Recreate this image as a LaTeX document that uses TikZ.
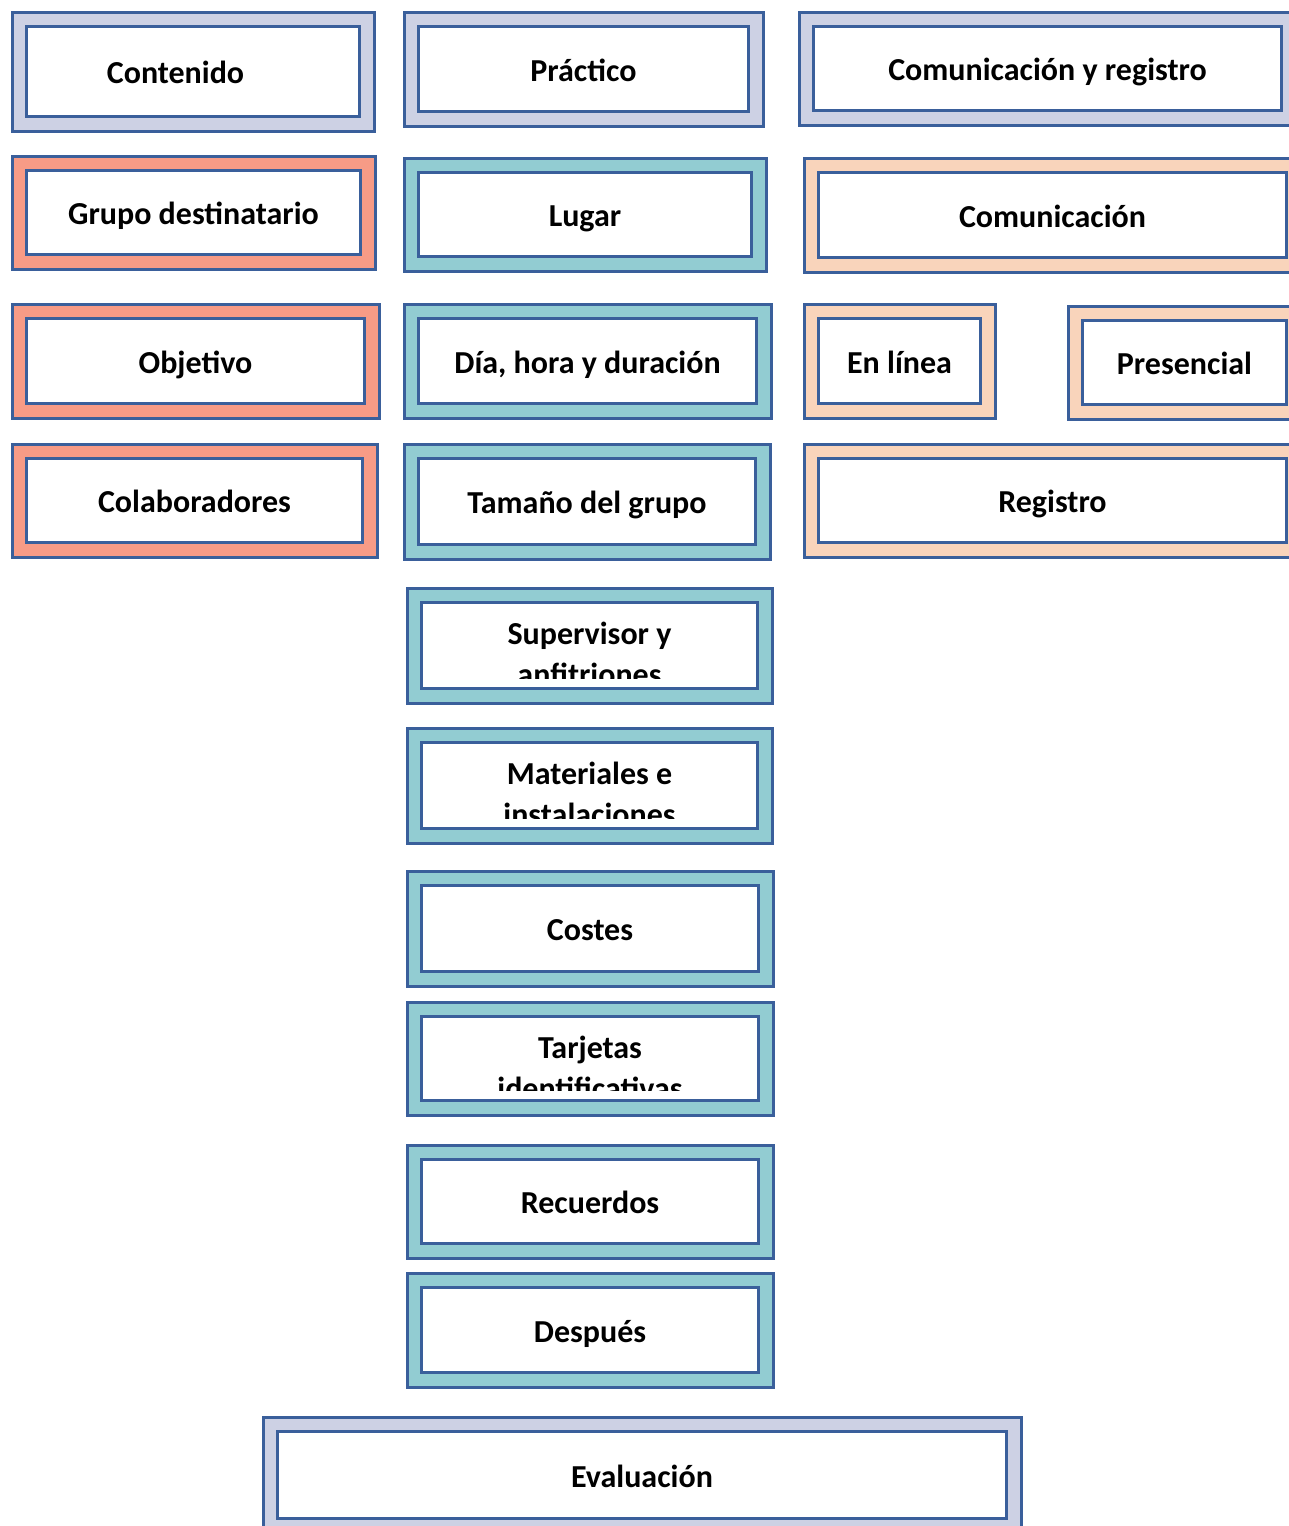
\documentclass[tikz,border=0pt]{standalone}
\usepackage{fontspec}
\setmainfont{Carlito}
\definecolor{cardblue}{HTML}{3A5F9B}
\definecolor{cardlav}{HTML}{CDD1E4}
\definecolor{cardsalmon}{HTML}{F79B86}
\definecolor{cardteal}{HTML}{92CCD2}
\definecolor{cardpeach}{HTML}{F9D4BB}
\tikzset{
  cardout/.style={draw=cardblue, line width=3pt, inner sep=0pt, outer sep=0pt},
  cardin/.style={draw=cardblue, line width=3pt, fill=white, inner sep=0pt, outer sep=0pt,
    text height=24pt, text depth=0pt, font=\fontsize{32}{36}\selectfont\bfseries},
  cardtext/.style={inner sep=0pt, font=\fontsize{32}{36}\selectfont\bfseries},
}
% name, colour, left, top, right, bottom, text
\newcommand{\cardbox}[7]{%
  \node[cardout, fill=#2, minimum width={#5-#3}, minimum height={#6-#4}] (#1-out) at ({(#3+#5)/2},{(#4+#6)/2}) {};
  \node[cardin, minimum width={#5-#3-29}, minimum height={#6-#4-29}] (#1) at (#1-out.center) {#7};
}
\begin{document}
\begin{tikzpicture}[x=1pt,y=-1pt]
\useasboundingbox (0,0) rectangle (1289,1526);
%
\cardbox{contenido}{cardlav}{12}{12}{374}{131}{}
\cardbox{practico}{cardlav}{404}{12}{763}{126}{Práctico}
\cardbox{comreg}{cardlav}{799}{12}{1296}{125}{Comunicación y registro}
%
\cardbox{grupo}{cardsalmon}{12}{156}{375}{269}{Grupo destinatario}
\cardbox{lugar}{cardteal}{404}{158}{766}{271}{Lugar}
\cardbox{comunicacion}{cardpeach}{804}{158}{1301}{272}{Comunicación}
%
\cardbox{objetivo}{cardsalmon}{12}{304}{379}{418}{Objetivo}
\cardbox{dia}{cardteal}{404}{304}{771}{418}{Día, hora y duración}
\cardbox{enlinea}{cardpeach}{804}{304}{995}{418}{En línea}
\cardbox{presencial}{cardpeach}{1068}{306}{1301}{419}{Presencial}
%
\cardbox{colaboradores}{cardsalmon}{12}{444}{377}{557}{Colaboradores}
\cardbox{tamano}{cardteal}{404}{444}{770}{559}{Tamaño del grupo}
\cardbox{registro}{cardpeach}{804}{444}{1301}{557}{Registro}
%
\cardbox{supervisor}{cardteal}{407}{588}{772}{703}{}
\cardbox{materiales}{cardteal}{407}{728}{772}{843}{}
\cardbox{costes}{cardteal}{407}{871}{773}{986}{Costes}
\cardbox{tarjetas}{cardteal}{407}{1002}{773}{1115}{}
\cardbox{recuerdos}{cardteal}{407}{1145}{773}{1258}{Recuerdos}
\cardbox{despues}{cardteal}{407}{1273}{773}{1387}{Después}
%
\cardbox{evaluacion}{cardlav}{263}{1417}{1021}{1533}{Evaluación}
%
\node[cardtext, text height=24pt, text depth=0pt] (contenido-text) at ([xshift=-17.5pt]contenido.center) {Contenido};
%
\begin{scope}
\clip ([xshift=2pt,yshift=-2pt]supervisor.north west) rectangle ([xshift=-2pt,yshift=10pt]supervisor.south east);
\node[cardtext, anchor=base] (supervisor-top) at ([yshift=-42pt]supervisor.north) {Supervisor y};
\node[cardtext, anchor=base] (supervisor-bot) at ([yshift=-41pt]supervisor-top.base) {anfitriones};
\end{scope}
\begin{scope}
\clip ([xshift=2pt,yshift=-2pt]materiales.north west) rectangle ([xshift=-2pt,yshift=10pt]materiales.south east);
\node[cardtext, anchor=base] (materiales-top) at ([yshift=-42pt]materiales.north) {Materiales e};
\node[cardtext, anchor=base] (materiales-bot) at ([yshift=-41pt]materiales-top.base) {instalaciones};
\end{scope}
\begin{scope}
\clip ([xshift=2pt,yshift=-2pt]tarjetas.north west) rectangle ([xshift=-2pt,yshift=10pt]tarjetas.south east);
\node[cardtext, anchor=base] (tarjetas-top) at ([yshift=-42pt]tarjetas.north) {Tarjetas};
\node[cardtext, anchor=base] (tarjetas-bot) at ([yshift=-41pt]tarjetas-top.base) {identificativas};
\end{scope}
\end{tikzpicture}
\end{document}
